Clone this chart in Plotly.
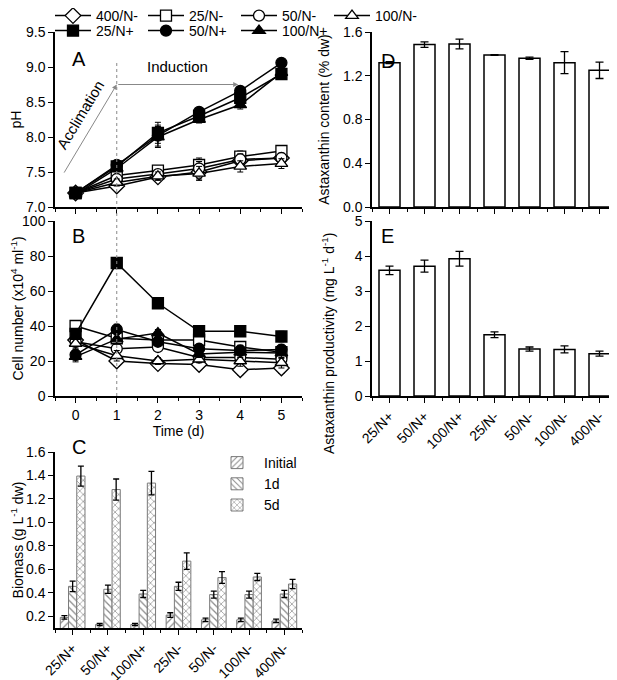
import plotly.graph_objects as go

# page has an 8px body margin; figure placed so that page pixels match the reference
OFF = 8
W, H = 617 - OFF, 680 - OFF
days = [0, 1, 2, 3, 4, 5]

# pH (panel A)
ph_400m = [7.20, 7.30, 7.43, 7.50, 7.66, 7.70]
ph_25m = [7.20, 7.45, 7.52, 7.60, 7.72, 7.80]
ph_50m = [7.20, 7.40, 7.47, 7.55, 7.68, 7.70]
ph_100m = [7.20, 7.35, 7.44, 7.48, 7.58, 7.62]
ph_25p = [7.20, 7.58, 8.06, 8.30, 8.56, 8.90]
ph_50p = [7.20, 7.60, 8.02, 8.36, 8.66, 9.06]
ph_100p = [7.18, 7.55, 8.00, 8.25, 8.46, 8.92]
ph_err_m = [0.03, 0.05, 0.06, 0.10, 0.08, 0.07]
ph_err_p = [0.03, 0.04, 0.15, 0.05, 0.06, 0.05]

# Cell number (panel B)
cell_400m = [32, 20, 18.5, 18, 15, 16]
cell_25m = [40, 33, 32, 32, 28, 25]
cell_50m = [31, 27, 28, 22, 22, 21]
cell_100m = [30, 23, 20, 21, 20, 19]
cell_25p = [35.5, 76, 53, 37, 37, 34]
cell_50p = [23.5, 38, 31, 27, 26, 26.5]
cell_100p = [22.5, 32.5, 36, 24, 25, 24.5]
cell_err = [3, 3, 2, 2, 3, 3]

# Panels C, D, E
treatments = ["25/N+", "50/N+", "100/N+", "25/N-", "50/N-", "100/N-", "400/N-"]
bio_initial = [0.19, 0.13, 0.13, 0.21, 0.17, 0.17, 0.16]
bio_initial_err = [0.015, 0.01, 0.01, 0.02, 0.015, 0.015, 0.015]
bio_1d = [0.455, 0.43, 0.39, 0.455, 0.385, 0.385, 0.39]
bio_1d_err = [0.045, 0.035, 0.03, 0.035, 0.03, 0.03, 0.03]
bio_5d = [1.395, 1.28, 1.335, 0.67, 0.53, 0.535, 0.475]
bio_5d_err = [0.085, 0.09, 0.1, 0.07, 0.05, 0.03, 0.04]
asta_content = [1.32, 1.485, 1.49, 1.39, 1.36, 1.32, 1.25]
asta_content_err = [0.01, 0.025, 0.045, 0.004, 0.01, 0.1, 0.075]
asta_prod = [3.59, 3.71, 3.92, 1.75, 1.34, 1.33, 1.21]
asta_prod_err = [0.12, 0.17, 0.21, 0.085, 0.06, 0.1, 0.07]

FONT = "Liberation Sans, Arial, sans-serif"
xs = list(range(len(treatments)))

def px_x(p):
    return (p - OFF) / W

def px_y(p):
    return 1 - (p - OFF) / H

series = [
    ("400/N-", ph_400m, cell_400m, "diamond", "white", ph_err_m, "legend"),
    ("25/N-", ph_25m, cell_25m, "square", "white", ph_err_m, "legend"),
    ("50/N-", ph_50m, cell_50m, "circle", "white", ph_err_m, "legend"),
    ("100/N-", ph_100m, cell_100m, "triangle-up", "white", ph_err_m, "legend"),
    ("25/N+", ph_25p, cell_25p, "square", "black", ph_err_p, "legend2"),
    ("50/N+", ph_50p, cell_50p, "circle", "black", ph_err_p, "legend2"),
    ("100/N+", ph_100p, cell_100p, "triangle-up", "black", ph_err_p, "legend2"),
]

fig = go.Figure()
for name, ph, cell, sym, fill, err, leg in series:
    msize = 12 if sym == "diamond" else 11
    mk = dict(symbol=sym, size=msize, color=fill, line=dict(color="black", width=1.3))
    fig.add_trace(go.Scatter(
        x=days, y=ph, name=name, mode="lines+markers", legend=leg, legendgroup=name,
        line=dict(color="black", width=1.5), marker=mk,
        error_y=dict(type="data", array=err, color="black", thickness=1, width=3),
        xaxis="x", yaxis="y"))
    fig.add_trace(go.Scatter(
        x=days, y=cell, name=name, mode="lines+markers", legendgroup=name, showlegend=False,
        line=dict(color="black", width=1.5), marker=mk,
        error_y=dict(type="data", array=cell_err, color="black", thickness=1, width=3),
        xaxis="x2", yaxis="y2"))

# Panel C
for name, vals, errs, shape in [("Initial", bio_initial, bio_initial_err, "/"),
                                ("1d", bio_1d, bio_1d_err, "\\"),
                                ("5d", bio_5d, bio_5d_err, "x")]:
    fig.add_trace(go.Bar(
        x=xs, y=vals, name=name, legend="legend3", offsetgroup=name,
        marker=dict(color="white", line=dict(color="#7a7a7a", width=1),
                    pattern=dict(shape=shape, fgcolor="#8a8a8a", bgcolor="white", size=5, solidity=0.25)),
        error_y=dict(type="data", array=errs, color="black", thickness=1.3, width=3),
        xaxis="x3", yaxis="y3"))

# Panel D
fig.add_trace(go.Bar(
    x=xs, y=asta_content, width=0.6, showlegend=False,
    marker=dict(color="white", line=dict(color="black", width=1.5)),
    error_y=dict(type="data", array=asta_content_err, color="black", thickness=1.3, width=4),
    xaxis="x4", yaxis="y4"))
# Panel E
fig.add_trace(go.Bar(
    x=xs, y=asta_prod, width=0.6, showlegend=False,
    marker=dict(color="white", line=dict(color="black", width=1.5)),
    error_y=dict(type="data", array=asta_prod_err, color="black", thickness=1.3, width=4),
    xaxis="x5", yaxis="y5"))

tickfont = dict(family=FONT, size=14, color="black")
titlefont = dict(family=FONT, size=14, color="black")

def xax(domain, anchor, rng, showlabels, tickvals=None, ticktext=None, angle=0, title=None):
    d = dict(domain=domain, anchor=anchor, range=rng, showline=True, linecolor="black", linewidth=1.5,
             ticks="outside", ticklen=5, tickwidth=1.3, tickcolor="black", showgrid=False, zeroline=False,
             showticklabels=showlabels, tickfont=tickfont, automargin=False,
             minor=dict(dtick=0.5, tick0=0.5, ticks="outside", ticklen=3, tickwidth=1.2, tickcolor="black", showgrid=False))
    if tickvals is not None:
        d.update(tickmode="array", tickvals=tickvals, ticktext=ticktext)
    else:
        d.update(dtick=1, tick0=0)
    if angle:
        d["tickangle"] = angle
    if title:
        d["title"] = dict(text=title, font=titlefont, standoff=4)
    return d

def yax(domain, anchor, rng, dtick, fmt, title, standoff=6):
    return dict(domain=domain, anchor=anchor, range=rng, dtick=dtick, tickformat=fmt,
                showline=True, linecolor="black", linewidth=1.5, ticks="outside", ticklen=5,
                tickwidth=1.3, tickcolor="black", showgrid=False, zeroline=False, tickfont=tickfont,
                automargin=False, title=dict(text=title, font=titlefont, standoff=standoff))

dxl = [px_x(55), px_x(302)]
dxr = [px_x(372), 1.0]
dyA = [px_y(207), px_y(32)]
dyB = [px_y(396), px_y(221)]
dyC = [px_y(628), px_y(452)]
right_rng = [-0.5, 6.5]

legfont = dict(family=FONT, size=14, color="black")
fig.update_layout(
    template="none",
    width=W, height=H, margin=dict(l=0, r=0, t=0, b=0, autoexpand=False),
    paper_bgcolor="white", plot_bgcolor="white",
    font=dict(family=FONT, size=14, color="black"),
    barmode="group", bargap=0.3, bargroupgap=0,
    xaxis=xax(dxl, "y", [-0.5, 5.5], False),
    yaxis=yax(dyA, "x", [7.0, 9.5], 0.5, ".1f", "pH", 10),
    xaxis2=xax(dxl, "y2", [-0.5, 5.5], True, title="Time (d)"),
    yaxis2=yax(dyB, "x2", [0, 100], 20, "d", "Cell number (x10<sup>4</sup> ml<sup>-1</sup>)", 6),
    xaxis3=xax(dxl, "y3", [-0.5, 6.5], True, xs, treatments, -45),
    yaxis3=yax(dyC, "x3", [0.1, 1.6], 0.2, ".1f", "Biomass (g L<sup>-1</sup> dw)", 8),
    xaxis4=xax(dxr, "y4", right_rng, False, xs, treatments),
    yaxis4=yax(dyA, "x4", [0, 1.6], 0.4, ".1f", "Astaxanthin content (% dw)", 10),
    xaxis5=xax(dxr, "y5", right_rng, True, xs, treatments, -45),
    yaxis5=yax(dyB, "x5", [0, 5], 1, "d", "", 18),
    legend=dict(orientation="h", x=px_x(50), y=px_y(0), xanchor="left", yanchor="top",
                entrywidth=42, entrywidthmode="pixels", itemwidth=36,
                font=legfont, bgcolor="rgba(0,0,0,0)", tracegroupgap=0),
    legend2=dict(orientation="h", x=px_x(50), y=px_y(15), xanchor="left", yanchor="top",
                 entrywidth=42, entrywidthmode="pixels", itemwidth=36,
                 font=legfont, bgcolor="rgba(0,0,0,0)"),
    legend3=dict(x=px_x(210), y=px_y(447), xanchor="left", yanchor="top",
                 font=legfont, bgcolor="rgba(0,0,0,0)", itemwidth=44, tracegroupgap=0),
)

# E axis title placed as in the reference (shifted down along the axis)
fig.add_annotation(x=px_x(328), y=px_y(344), xref="paper", yref="paper",
                   text="Astaxanthin productivity (mg L<sup>-1</sup> d<sup>-1</sup>)", showarrow=False,
                   textangle=-90, font=titlefont)

# dotted vertical line at day 1 through panels A and B
fig.add_shape(type="line", xref="x", yref="paper", x0=1, x1=1, y0=px_y(396), y1=px_y(60),
              line=dict(color="#888888", width=1, dash="dot"))

# Acclimation / Induction arrows
fig.add_annotation(x=1, y=8.75, ax=-0.3, ay=7.47, xref="x", yref="y", axref="x", ayref="y",
                   showarrow=True, arrowhead=2, arrowsize=1, arrowwidth=1, arrowcolor="#888888", text="")
fig.add_annotation(x=3.95, y=8.75, ax=1, ay=8.75, xref="x", yref="y", axref="x", ayref="y",
                   showarrow=True, arrowhead=2, arrowsize=1, arrowwidth=1, arrowcolor="#888888", text="")
fig.add_annotation(x=2.48, y=9.0, xref="x", yref="y", text="Induction", showarrow=False,
                   font=dict(family=FONT, size=15, color="black"))
fig.add_annotation(x=0.12, y=8.32, xref="x", yref="y", text="Acclimation", showarrow=False,
                   textangle=-59, font=dict(family=FONT, size=15, color="black"))

for lab, px, py in [("A", 70, 46), ("B", 70, 236), ("C", 70, 460), ("D", 388, 48), ("E", 387, 236)]:
    fig.add_annotation(x=px_x(px), y=px_y(py), xref="paper", yref="paper", text=lab, showarrow=False,
                       font=dict(family=FONT, size=20, color="black"))

fig.write_html("out.html")
